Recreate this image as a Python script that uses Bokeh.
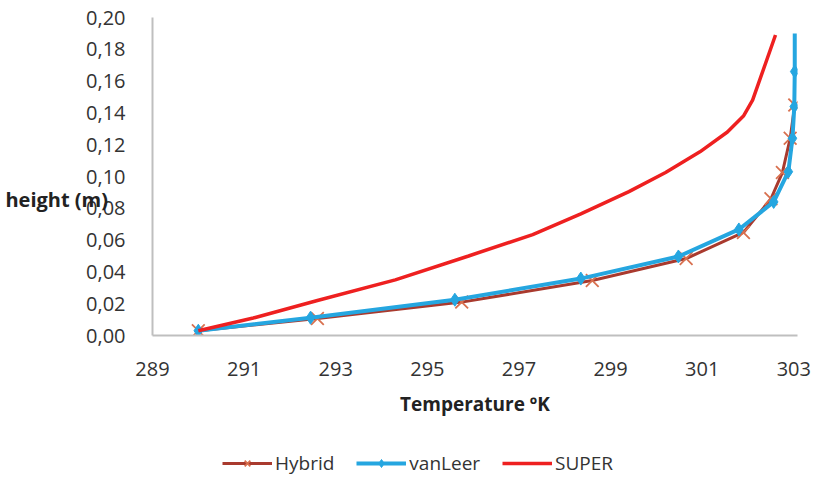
from bokeh.plotting import figure
from bokeh.models import (FixedTicker, CustomJSTickFormatter, Range1d, Legend,
                          LegendItem)
from bokeh.layouts import column
from bokeh.embed import file_html
from bokeh.resources import INLINE

# ---- data ----
hybrid_temp = [290.0, 292.6, 295.75, 298.6, 300.65, 301.9, 302.5, 302.75, 302.92, 303.02]
hybrid_height = [0.003, 0.0107, 0.021, 0.0346, 0.0484, 0.0648, 0.086, 0.1025, 0.124, 0.145]

vanleer_temp = [290.0, 292.45, 295.6, 298.35, 300.48, 301.8, 302.56, 302.88, 302.97, 303.01, 303.02, 303.02]
vanleer_height = [0.003, 0.0112, 0.0225, 0.0358, 0.0497, 0.0667, 0.0840, 0.103, 0.124, 0.144, 0.166, 0.19]

super_temp = [290.0, 291.2, 292.6, 294.3, 295.9, 297.3, 298.35, 299.4, 300.2, 300.95,
              301.55, 301.9, 302.1, 302.6]
super_height = [0.003, 0.011, 0.022, 0.035, 0.050, 0.0635, 0.0765, 0.0905, 0.1025, 0.1155,
                0.128, 0.138, 0.148, 0.189]

x_ticks = [289, 291, 293, 295, 297, 299, 301, 303]
y_ticks = [0.0, 0.02, 0.04, 0.06, 0.08, 0.10, 0.12, 0.14, 0.16, 0.18, 0.20]

series_names = ["Hybrid", "vanLeer", "SUPER"]
x_title = "Temperature ºK"
y_title = "height (m)"

FONT = "Open Sans"
TXT = "#333333"
C_HYB_LINE = "#A93A2E"
C_HYB_MARK = "#D8704F"
C_VAN = "#25A6E0"
C_SUP = "#EE2020"

p = figure(width=815, height=440, output_backend="svg", toolbar_location=None,
           x_range=Range1d(289, 303.08), y_range=Range1d(0, 0.2),
           min_border_left=152, min_border_right=18, min_border_top=17,
           min_border_bottom=105)
p.outline_line_color = None
p.grid.visible = False
p.background_fill_color = "white"
p.border_fill_color = "white"

# axes
for ax in (p.xaxis[0], p.yaxis[0]):
    ax.axis_line_color = "#BFBFBF"
    ax.axis_line_width = 2
    ax.major_tick_line_color = None
    ax.minor_tick_line_color = None
    ax.major_label_text_font = FONT
    ax.major_label_text_font_size = "20px"
    ax.major_label_text_color = TXT

p.xaxis.ticker = FixedTicker(ticks=x_ticks)
p.yaxis.ticker = FixedTicker(ticks=y_ticks)
p.yaxis.formatter = CustomJSTickFormatter(code="return tick.toFixed(2).replace('.', ',');")
p.xaxis.major_label_standoff = 20
p.yaxis.major_label_standoff = 21

p.xaxis.axis_label = x_title
p.xaxis.axis_label_text_font = FONT
p.xaxis.axis_label_text_font_style = "bold"
p.xaxis.axis_label_text_font_size = "19px"
p.xaxis.axis_label_text_color = "#222222"
p.xaxis.axis_label_standoff = 12

# y title: horizontal, overlapping the tick labels as in the reference
p.yaxis.axis_label = "\n\n" + y_title
p.yaxis.axis_label_orientation = "horizontal"
p.yaxis.axis_label_standoff = -25
p.yaxis.axis_label_text_font = FONT
p.yaxis.axis_label_text_font_style = "bold"
p.yaxis.axis_label_text_font_size = "20px"
p.yaxis.axis_label_text_line_height = 0.85
p.yaxis.axis_label_text_color = "#222222"

# series
p.line(hybrid_temp, hybrid_height, line_color=C_HYB_LINE, line_width=3)
p.scatter(hybrid_temp, hybrid_height, marker="x", size=18,
          line_color=C_HYB_MARK, line_width=1.8)

p.line(vanleer_temp, vanleer_height, line_color=C_VAN, line_width=4)
p.scatter(vanleer_temp[:-1], vanleer_height[:-1], marker="diamond", size=13,
          fill_color=C_VAN, line_color=C_VAN)

p.line(super_temp, super_height, line_color=C_SUP, line_width=3.5)

# ---- legend strip below the chart (renderers hold only NaN, draw nothing) ----
q = figure(width=815, height=44, output_backend="svg", toolbar_location=None,
           x_range=Range1d(0, 1), y_range=Range1d(0, 1),
           min_border_left=0, min_border_right=0, min_border_top=0, min_border_bottom=0)
q.axis.visible = False
q.grid.visible = False
q.outline_line_color = None
q.border_fill_color = "white"

nan = [float("nan")]
lh = q.line(nan, nan, line_color=C_HYB_LINE, line_width=3)
mh = q.scatter(nan, nan, marker="x", size=18, line_color=C_HYB_MARK, line_width=1.8)
lv = q.line(nan, nan, line_color=C_VAN, line_width=4)
mv = q.scatter(nan, nan, marker="diamond", size=10, fill_color=C_VAN, line_color=C_VAN)
ls = q.line(nan, nan, line_color=C_SUP, line_width=3.5)

legend = Legend(items=[
    LegendItem(label=series_names[0], renderers=[lh, mh]),
    LegendItem(label=series_names[1], renderers=[lv, mv]),
    LegendItem(label=series_names[2], renderers=[ls]),
], orientation="horizontal", location=(70, 8))
legend.border_line_color = None
legend.background_fill_alpha = 0
legend.padding = 0
legend.margin = 0
legend.spacing = 22
legend.glyph_width = 50
legend.label_standoff = 3
legend.label_text_font = FONT
legend.label_text_font_size = "19px"
legend.label_text_color = TXT
q.add_layout(legend, "center")

layout = column(p, q, spacing=0)
open("out.html", "w").write(file_html(layout, INLINE))
